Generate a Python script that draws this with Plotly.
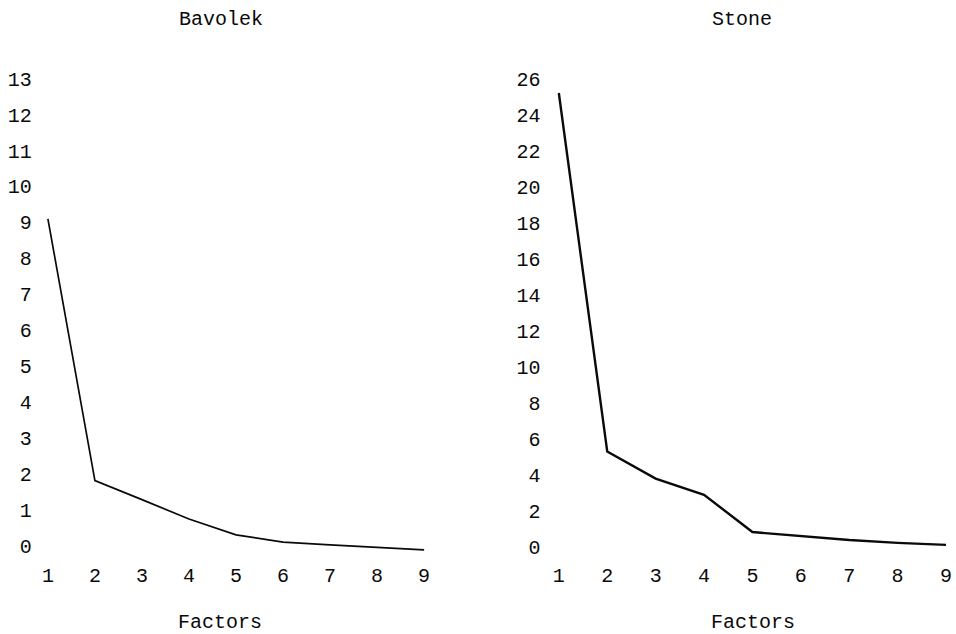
import plotly.graph_objects as go

factors = [1, 2, 3, 4, 5, 6, 7, 8, 9]
bavolek = [9.1, 1.82, 1.29, 0.75, 0.31, 0.11, 0.03, -0.04, -0.11]
stone = [25.2, 5.3, 3.8, 2.9, 0.83, 0.61, 0.39, 0.23, 0.12]
bavolek_yticks = list(range(0, 14))
stone_yticks = list(range(0, 27, 2))
titles = ["Bavolek", "Stone"]
xlabel = "Factors"

W, H = 956, 634
FONT = "Liberation Mono, Courier New, monospace"
FS = 20
INK = "#0a0a0a"

def px_dom(a, b):
    return [a / W, b / W]

def py_dom(top, bottom):
    return [(H - bottom) / H, (H - top) / H]

fig = go.Figure()
fig.add_trace(go.Scatter(x=factors, y=bavolek, mode="lines",
                         line=dict(color=INK, width=1.7),
                         xaxis="x", yaxis="y", showlegend=False))
fig.add_trace(go.Scatter(x=factors, y=stone, mode="lines",
                         line=dict(color=INK, width=2.4),
                         xaxis="x2", yaxis="y2", showlegend=False))

common_axis = dict(showgrid=False, zeroline=False, showline=False, ticks="",
                   tickfont=dict(family=FONT, size=FS, color=INK))

# left panel: x=1 -> 48px, x=9 -> 425px ; y=0 -> 546px, y=13 -> 78.6px
lx0, lx1 = 48, 425
lpu = (lx1 - lx0) / 8
lxr = [0.85, 9.08]
ly0, ly13 = 546, 78.6
lyu = (ly0 - ly13) / 13
lyr = [-0.42, 13.5]
fig.update_layout(
    xaxis=dict(domain=px_dom(lx0 + (lxr[0] - 1) * lpu, lx0 + (lxr[1] - 1) * lpu),
               range=lxr, tickvals=factors, anchor="y",
               ticklabeloverflow="allow", **common_axis),
    yaxis=dict(domain=py_dom(ly0 - lyr[1] * lyu, ly0 - lyr[0] * lyu),
               range=lyr, tickvals=bavolek_yticks, anchor="x",
               ticklabelstandoff=8, ticklabeloverflow="allow", **common_axis),
)

# right panel: x=1 -> 560px, x=9 -> 948px ; y=0 -> 547px, y=26 -> 78.6px
rx0, rx1 = 560, 948
rpu = (rx1 - rx0) / 8
rxr = [0.85, 9.1]
ry0, ry26 = 547, 78.6
ryu = (ry0 - ry26) / 26
ryr = [-0.8, 26.9]
fig.update_layout(
    xaxis2=dict(domain=px_dom(rx0 + (rxr[0] - 1) * rpu, rx0 + (rxr[1] - 1) * rpu),
                range=rxr, tickvals=factors, anchor="y2",
                ticklabeloverflow="allow", **common_axis),
    yaxis2=dict(domain=py_dom(ry0 - ryr[1] * ryu, ry0 - ryr[0] * ryu),
                range=ryr, tickvals=stone_yticks, anchor="x2",
                ticklabelstandoff=10, ticklabeloverflow="allow", **common_axis),
)

anns = []
for cx, t in [(221, titles[0]), (744, titles[1])]:
    anns.append(dict(x=cx / W, y=1 - 19 / H, xref="paper", yref="paper",
                     text=t, showarrow=False, xanchor="center", yanchor="middle",
                     font=dict(family=FONT, size=FS, color=INK)))
for cx in [220, 755]:
    anns.append(dict(x=cx / W, y=1 - 622 / H, xref="paper", yref="paper",
                     text=xlabel, showarrow=False, xanchor="center", yanchor="middle",
                     font=dict(family=FONT, size=FS, color=INK)))

fig.update_layout(width=W, height=H, margin=dict(l=0, r=0, t=0, b=0),
                  paper_bgcolor="white", plot_bgcolor="white",
                  annotations=anns, showlegend=False)

fig.write_html(
    "out.html",
    config={"displayModeBar": False},
    post_script="document.body.style.margin='0';document.body.style.overflow='hidden';",
)
